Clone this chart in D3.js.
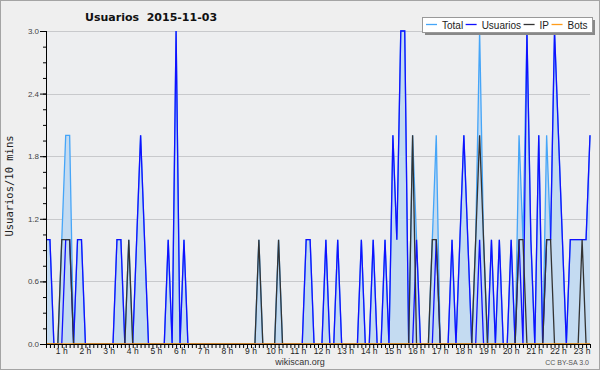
<!DOCTYPE html>
<html>
<head>
<meta charset="utf-8">
<script src="https://cdn.jsdelivr.net/npm/d3@7"></script>
<style>
  body { margin: 0; background: #fff; }
  svg { display: block; }
</style>
</head>
<body>
<div id="chart"></div>
<script>
// 10 minute bins, first bin at 00:20
const startMinute = 20;
const stepMinutes = 10;

const usuarios = [
  1,1,0,0,0,1, 1,0,1,1,0,0, 0,0,0,0,0,0, 1,1,0,0,0,1,
  2,1,0,0,0,0, 0,1,0,3,0,1, 0,0,0,0,0,0, 0,0,0,0,0,0,
  0,0,0,0,0,0, 0,0,0,0,0,0, 0,0,0,0,0,0, 1,1,0,0,0,1,
  0,0,1,0,0,0, 0,0,1,0,0,1, 0,0,1,0,2,1, 3,3,0,0,1,0,
  0,0,0,1,0,0, 0,1,0,1,2,1, 0,0,1,0,0,1, 0,1,0,0,1,0,
  1,0,3,1,0,2, 0,1,1,3,2,1, 0,1,1,1,1,1, 2
];
const ip = [
  0,0,0,0,1,1, 1,0,0,0,0,0, 0,0,0,0,0,0, 0,0,0,1,0,0,
  0,0,0,0,0,0, 0,0,0,0,0,0, 0,0,0,0,0,0, 0,0,0,0,0,0,
  0,0,0,0,0,0, 1,0,0,0,0,1, 0,0,0,0,0,0, 0,0,0,0,0,0,
  0,0,0,0,0,0, 0,0,0,0,0,0, 0,0,0,0,0,0, 0,0,0,2,0,0,
  0,0,1,1,0,0, 0,0,0,0,0,0, 0,1,2,1,0,0, 0,0,0,0,0,0,
  1,1,0,0,0,0, 0,1,1,0,0,0, 0,0,0,0,1,0, 0
];
const bots = [
  0,0,0,0,0,0, 0,0,0,0,0,0, 0,0,0,0,0,0, 0,0,0,0,0,0,
  0,0,0,0,0,0, 0,0,0,0,0,0, 0,0,0,0,0,0, 0,0,0,0,0,0,
  0,0,0,0,0,0, 0,0,0,0,0,0, 0,0,0,0,0,0, 0,0,0,0,0,0,
  0,0,0,0,0,0, 0,0,0,0,0,0, 0,0,0,0,0,0, 0,0,0,0,0,0,
  0,0,0,0,0,0, 0,0,0,0,0,0, 0,0,0,0,0,0, 0,0,0,0,0,0,
  0,0,0,0,0,0, 0,0,0,0,0,0, 0,0,0,0,0,0, 0
];
const total = [
  1,1,0,0,1,2, 2,0,1,1,0,0, 0,0,0,0,0,0, 1,1,0,1,0,1,
  2,1,0,0,0,0, 0,1,0,3,0,1, 0,0,0,0,0,0, 0,0,0,0,0,0,
  0,0,0,0,0,0, 1,0,0,0,0,1, 0,0,0,0,0,0, 1,1,0,0,0,1,
  0,0,1,0,0,0, 0,0,1,0,0,1, 0,0,1,0,2,1, 3,3,0,2,1,0,
  0,0,1,2,0,0, 0,1,0,1,2,1, 0,1,3,1,0,1, 0,1,0,0,1,0,
  2,1,3,1,0,2, 0,2,1,3,2,1, 0,1,1,1,1,1, 2
];

const hours = d3.range(1, 24);
const yLabelTicks = [0, 0.6, 1.2, 1.8, 2.4, 3.0];
const seriesNames = ["Total", "Usuarios", "IP", "Bots"];
const seriesColors = ["#45a5f8", "#1010ff", "#333333", "#ff9c1a"];

const width = 600, height = 370;
const margin = {left: 46, right: 10, top: 31, bottom: 26};

const svg = d3.select("#chart").append("svg")
  .attr("width", width)
  .attr("height", height);

svg.append("rect")
  .attr("x", 0.5).attr("y", 0.5)
  .attr("width", width - 1).attr("height", height - 1)
  .attr("fill", "#efefef")
  .attr("stroke", "#a4a4a4");

const minutes = total.map((d, i) => startMinute + i * stepMinutes);

const x = d3.scaleLinear()
  .domain([startMinute, startMinute + (total.length - 1) * stepMinutes])
  .range([margin.left, width - margin.right]);

const y = d3.scaleLinear()
  .domain([0, 3])
  .range([height - margin.bottom, margin.top]);

// plot background
svg.append("rect")
  .attr("x", margin.left).attr("y", margin.top)
  .attr("width", width - margin.left - margin.right)
  .attr("height", height - margin.top - margin.bottom)
  .attr("fill", "#edeef0");

// grid
svg.append("g")
  .selectAll("line")
  .data(yLabelTicks.filter(d => d > 0))
  .join("line")
  .attr("x1", margin.left).attr("x2", width - margin.right)
  .attr("y1", d => Math.round(y(d)) + 0.5).attr("y2", d => Math.round(y(d)) + 0.5)
  .attr("stroke", "#c8c9cc");

const area = d3.area()
  .x((d, i) => x(minutes[i]))
  .y0(y(0))
  .y1(d => y(d));

const line = d3.line()
  .x((d, i) => x(minutes[i]))
  .y(d => y(d));

svg.append("path")
  .attr("d", area(total))
  .attr("fill", "#c4dbf1");

const seriesData = [total, usuarios, ip, bots];
seriesData.forEach((s, k) => {
  svg.append("path")
    .attr("d", line(s))
    .attr("fill", "none")
    .attr("stroke", seriesColors[k])
    .attr("stroke-width", 1.3);
});

// y axis: minor ticks every 0.15, labels every 0.6
svg.append("g")
  .attr("transform", `translate(${margin.left},0)`)
  .call(d3.axisLeft(y).tickValues(d3.range(0, 3.01, 0.15)).tickSize(3).tickFormat(""))
  .call(g => g.select(".domain").remove());

const yAxis = svg.append("g")
  .attr("transform", `translate(${margin.left},0)`)
  .call(d3.axisLeft(y).tickValues(yLabelTicks).tickSize(6).tickPadding(1).tickFormat(d3.format(".1f")));
yAxis.select(".domain").attr("d", `M0.5,${y(0)}V${y(3)}`).attr("stroke", "#000");
yAxis.selectAll("text")
  .attr("font-family", "Liberation Sans, Arial, sans-serif")
  .attr("font-size", 8)
  .attr("fill", "#444");

// x axis: ticks every 10 minutes, hour labels
const xAxis = svg.append("g")
  .attr("transform", `translate(0,${y(0)})`)
  .call(d3.axisBottom(x).tickValues(minutes).tickSize(4).tickFormat(""));
xAxis.select(".domain").attr("d", `M${x.range()[0]},0.5H${x.range()[1]}`).attr("stroke", "#000");

svg.append("g")
  .selectAll("text")
  .data(hours)
  .join("text")
  .attr("x", d => x(d * 60))
  .attr("y", y(0) + 10)
  .attr("text-anchor", "middle")
  .attr("font-family", "Liberation Sans, Arial, sans-serif")
  .attr("font-size", 8.5)
  .attr("fill", "#222")
  .text(d => d + " h");

// title
svg.append("text")
  .attr("x", 85).attr("y", 21)
  .attr("font-family", "DejaVu Sans, sans-serif")
  .attr("font-size", 11)
  .attr("font-weight", "bold")
  .attr("fill", "#111")
  .style("white-space", "pre")
  .text("Usuarios  2015-11-03");

// y label
svg.append("text")
  .attr("transform", `translate(9,186) rotate(-90)`)
  .attr("text-anchor", "middle")
  .attr("dominant-baseline", "central")
  .attr("font-family", "DejaVu Sans Mono, monospace")
  .attr("font-size", 10.5)
  .attr("fill", "#222")
  .text("Usuarios/10 mins");

// footer
svg.append("text")
  .attr("x", width / 2).attr("y", 365)
  .attr("text-anchor", "middle")
  .attr("font-family", "Liberation Sans, Arial, sans-serif")
  .attr("font-size", 9)
  .attr("fill", "#333")
  .text("wikiscan.org");

svg.append("text")
  .attr("x", width - 11).attr("y", 365)
  .attr("text-anchor", "end")
  .attr("font-family", "Liberation Sans, Arial, sans-serif")
  .attr("font-size", 7)
  .attr("fill", "#555")
  .text("CC BY-SA 3.0");

// legend
const legend = svg.append("g");
legend.append("rect")
  .attr("x", 425).attr("y", 20).attr("width", 170).attr("height", 15)
  .attr("fill", "#888");
legend.append("rect")
  .attr("x", 422.5).attr("y", 17.5).attr("width", 170).attr("height", 15)
  .attr("fill", "#fff").attr("stroke", "#999");

let lx = 426;
seriesNames.forEach((name, k) => {
  legend.append("line")
    .attr("x1", lx).attr("x2", lx + 11)
    .attr("y1", 24.5).attr("y2", 24.5)
    .attr("stroke", seriesColors[k]).attr("stroke-width", 1.3);
  const t = legend.append("text")
    .attr("x", lx + 16).attr("y", 28.5)
    .attr("font-family", "Liberation Sans, Arial, sans-serif")
    .attr("font-size", 10)
    .attr("fill", "#222")
    .text(name);
  lx += 16 + t.node().getComputedTextLength() + 2.5;
});
</script>
</body>
</html>
